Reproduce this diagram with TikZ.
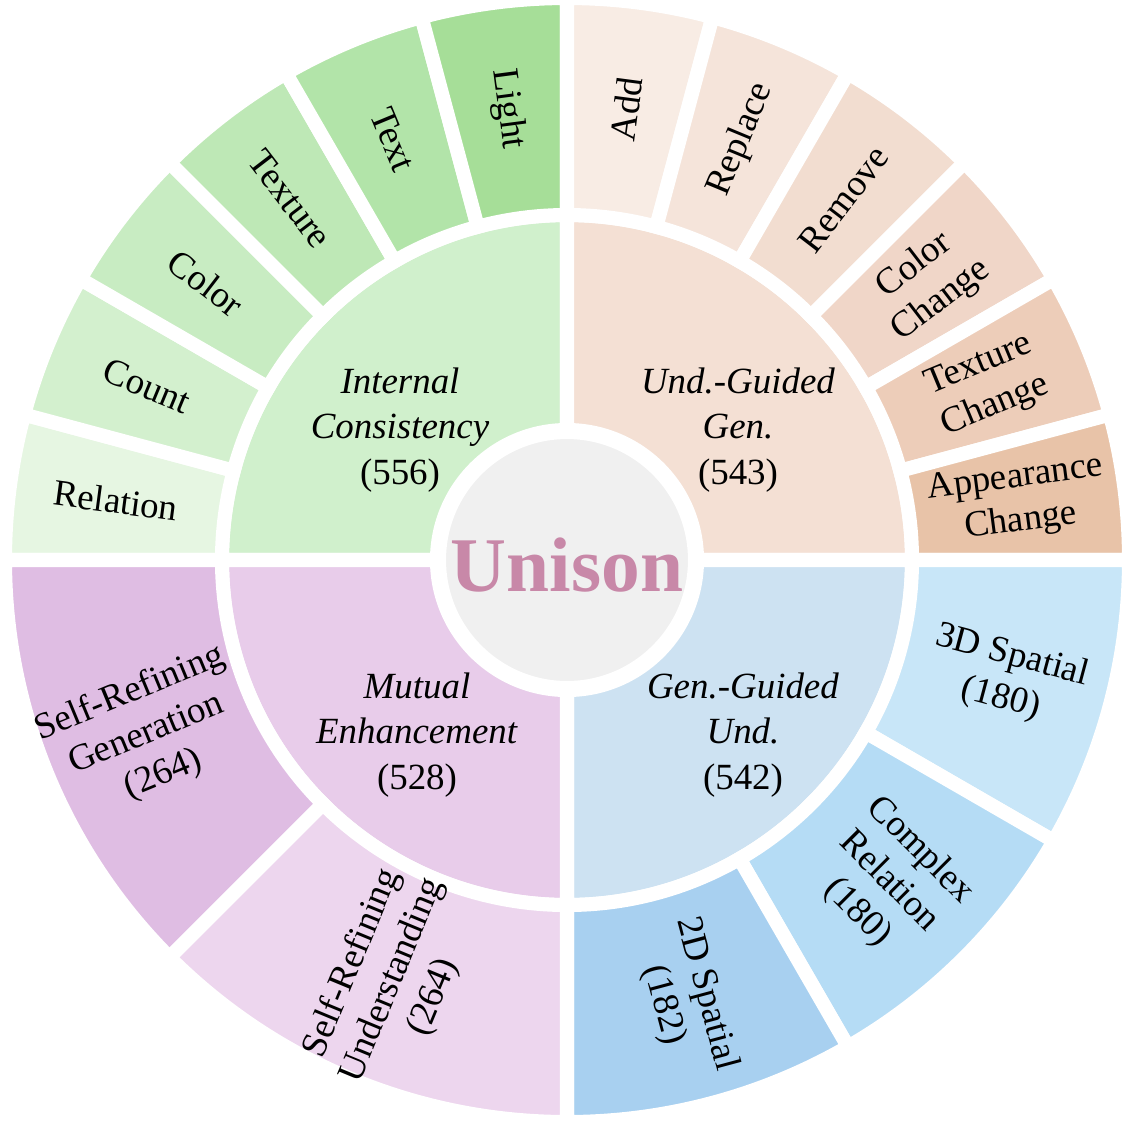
\documentclass[tikz,border=0pt]{standalone}
\usepackage{fontspec}
\setmainfont{Liberation Serif}
\usetikzlibrary{positioning}
\definecolor{gMid}{HTML}{D0F0CC}
\definecolor{pMid}{HTML}{F4E0D4}
\definecolor{bMid}{HTML}{CDE2F2}
\definecolor{vMid}{HTML}{E8CCEA}
\definecolor{uniTxt}{HTML}{C888A8}
% sector: colour, inner radius, outer radius, start angle, end angle
\newcommand\sector[5]{\fill[#1,draw=white,line width=4pt] (#4:#2) arc (#4:#5:#2) -- (#5:#3) arc (#5:#4:#3) -- cycle;}
\tikzset{
  outer/.style={font=\fontsize{10.5}{12.5}\selectfont, align=center},
  mid/.style={font=\fontsize{10.5}{13}\selectfont, align=center},
}

\begin{document}
\begin{tikzpicture}[x=0.01cm,y=0.01cm]
\useasboundingbox (-567,-572) rectangle (567,560);

% middle ring
\sector{gMid}{130}{345}{90}{180}
\sector{pMid}{130}{345}{0}{90}
\sector{bMid}{130}{345}{-90}{0}
\sector{vMid}{130}{345}{180}{270}

% outer ring, top left
\definecolor{gA}{HTML}{E6F6E2}\definecolor{gB}{HTML}{D3F0CE}
\definecolor{gC}{HTML}{C8ECC2}\definecolor{gD}{HTML}{BEE8B6}
\definecolor{gE}{HTML}{B2E4A9}\definecolor{gF}{HTML}{A6DE98}
\sector{gA}{345}{562}{165}{180}
\sector{gB}{345}{562}{150}{165}
\sector{gC}{345}{562}{135}{150}
\sector{gD}{345}{562}{120}{135}
\sector{gE}{345}{562}{105}{120}
\sector{gF}{345}{562}{90}{105}
% outer ring, top right
\definecolor{pA}{HTML}{F8ECE4}\definecolor{pB}{HTML}{F5E4DA}
\definecolor{pC}{HTML}{F2DDD0}\definecolor{pD}{HTML}{F0D6C8}
\definecolor{pE}{HTML}{EDCDB9}\definecolor{pF}{HTML}{E8C3A8}
\sector{pA}{345}{562}{75}{90}
\sector{pB}{345}{562}{60}{75}
\sector{pC}{345}{562}{45}{60}
\sector{pD}{345}{562}{30}{45}
\sector{pE}{345}{562}{15}{30}
\sector{pF}{345}{562}{0}{15}
% outer ring, bottom
\definecolor{bA}{HTML}{C8E6F8}\definecolor{bB}{HTML}{B5DCF5}\definecolor{bC}{HTML}{A8D0F0}
\definecolor{vA}{HTML}{DFBDE3}\definecolor{vB}{HTML}{EDD6EE}
\sector{bA}{345}{562}{-30}{0}
\sector{bB}{345}{562}{-60}{-30}
\sector{bC}{345}{562}{-90}{-60}
\sector{vA}{345}{562}{180}{225}
\sector{vB}{345}{562}{225}{270}

% centre
\fill[gray!12,draw=white,line width=4pt] (0,0) circle (128);
\node[font=\fontsize{22}{24}\selectfont\bfseries, text=uniTxt] (uni) at (0,-5) {Unison};

% middle labels
\node[mid] (ic) at (-167,130) {\textit{Internal}\\\textit{Consistency}\\(556)};
\node[mid] (ugg) at (171,130) {\textit{Und.-Guided}\\\textit{Gen.}\\(543)};
\node[mid] (me) at (-150,-175) {\textit{Mutual}\\\textit{Enhancement}\\(528)};
\node[mid] (ggu) at (176,-175) {\textit{Gen.-Guided}\\\textit{Und.}\\(542)};

% outer labels
\node[outer, rotate=-7.5] (rel) at (172.5:455) {Relation};
\node[outer, rotate=-22.5] (cnt) at (157.5:455) {Count};
\node[outer, rotate=-37.5] (col) at (142.5:455) {Color};
\node[outer, rotate=-52.5] (tex) at (127.5:455) {Texture};
\node[outer, rotate=-67.5] (txt) at (112.5:455) {Text};
\node[outer, rotate=-82.5] (lig) at (97.5:455) {Light};
\node[outer, rotate=82.5] (add) at (82.5:455) {Add};
\node[outer, rotate=67.5] (rep) at (67.5:455) {Replace};
\node[outer, rotate=52.5] (rem) at (52.5:455) {Remove};
\node[outer, rotate=37.5] (cc) at (37.5:455) {Color\\Change};
\node[outer, rotate=22.5] (tc) at (22.5:455) {Texture\\Change};
\node[outer, rotate=7.5] (ac) at (7.5:455) {Appearance\\Change};
\node[outer, rotate=-15] (s3) at (-15:455) {3D Spatial\\(180)};
\node[outer, rotate=-45] (cr) at (-45:455) {Complex\\Relation\\(180)};
\node[outer, rotate=-75] (s2) at (-75:455) {2D Spatial\\(182)};
\node[outer, rotate=22.5] (srg) at (202.5:455) {Self-Refining\\Generation\\(264)};
\node[outer, rotate=67.5] (sru) at (247.5:455) {Self-Refining\\Understanding\\(264)};
\end{tikzpicture}
\end{document}
